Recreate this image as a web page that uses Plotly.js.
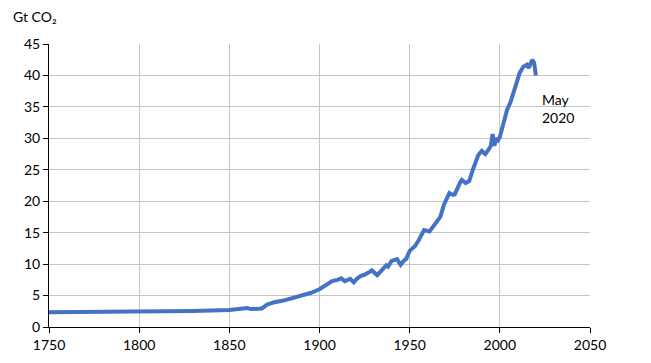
<!DOCTYPE html>
<html>
<head>
<meta charset="utf-8">
<script src="https://cdn.plot.ly/plotly-3.0.1.min.js"></script>
<style>html,body{margin:0;padding:0;background:#fff;}</style>
</head>
<body>
<div id="chart" style="width:651px;height:363px;"></div>
<script>
const years = [1750,1800,1830,1850,1858,1860,1862,1868,1871,1875,1880,1885,1888,1890,1895,1900,1904,1907,1910,1912,1914,1917,1919,1921,1923,1925,1928,1929,1932,1934,1937,1938,1940,1943,1945,1947,1948,1950,1953,1955,1958,1961,1964,1967,1969,1972,1974,1975,1978,1979,1981,1983,1985,1988,1990,1992,1994,1995,1996,1997,1998,1999,2000,2002,2004,2006,2007,2009,2011,2013,2015,2016,2017,2018,2019,2020];
const emissions = [2.34,2.45,2.55,2.72,2.95,3.0,2.85,2.95,3.55,3.95,4.2,4.55,4.8,5.0,5.4,6.0,6.8,7.3,7.5,7.75,7.3,7.65,7.1,7.75,8.15,8.3,8.8,9.0,8.25,8.9,9.8,9.6,10.5,10.8,9.9,10.6,10.8,12.1,12.9,13.8,15.4,15.2,16.4,17.5,19.4,21.3,21.0,21.1,23.0,23.4,22.9,23.2,25.0,27.3,28.0,27.5,28.3,28.8,30.7,28.8,30.0,29.7,30.2,32.4,34.5,35.8,36.7,38.6,40.4,41.4,41.7,41.2,41.9,42.5,42.0,40.0];
const xTicks = [1750,1800,1850,1900,1950,2000,2050];
const yTicks = [0,5,10,15,20,25,30,35,40,45];
const yUnit = 'Gt CO₂';
const endLabel = 'May<br>2020';

const fontFam = 'Lato, "Open Sans", sans-serif';

Plotly.newPlot('chart', [{
  x: years, y: emissions, type: 'scatter', mode: 'lines',
  line: {color: '#4472C4', width: 4}, hoverinfo: 'skip'
}], {
  width: 651, height: 363,
  margin: {l: 49, r: 61, t: 44, b: 36},
  paper_bgcolor: '#fff', plot_bgcolor: '#fff',
  showlegend: false,
  font: {family: fontFam, size: 14, color: '#000'},
  xaxis: {
    range: [1750, 2050], tickvals: xTicks, ticktext: xTicks.map(String),
    showgrid: true, gridcolor: '#c6c6c6', gridwidth: 1,
    showline: true, linecolor: '#000', linewidth: 1,
    ticks: 'outside', ticklen: 5, tickcolor: '#000',
    zeroline: false, fixedrange: true
  },
  yaxis: {
    range: [0, 45], tickvals: yTicks, ticktext: yTicks.map(String),
    showgrid: true, gridcolor: '#c6c6c6', gridwidth: 1,
    showline: true, linecolor: '#000', linewidth: 1,
    ticks: 'outside', ticklen: 5, tickcolor: '#000',
    zeroline: false, fixedrange: true
  },
  annotations: [
    {text: yUnit, xref: 'paper', yref: 'paper', x: -0.07, y: 1.06, xanchor: 'left', yanchor: 'bottom', showarrow: false, font: {family: fontFam, size: 14, color: '#000'}},
    {text: endLabel, xref: 'x', yref: 'y', x: 2022.5, y: 34.8, xanchor: 'left', yanchor: 'middle', align: 'left', showarrow: false, font: {family: fontFam, size: 14, color: '#000'}}
  ]
}, {staticPlot: true, displayModeBar: false});
</script>
</body>
</html>
